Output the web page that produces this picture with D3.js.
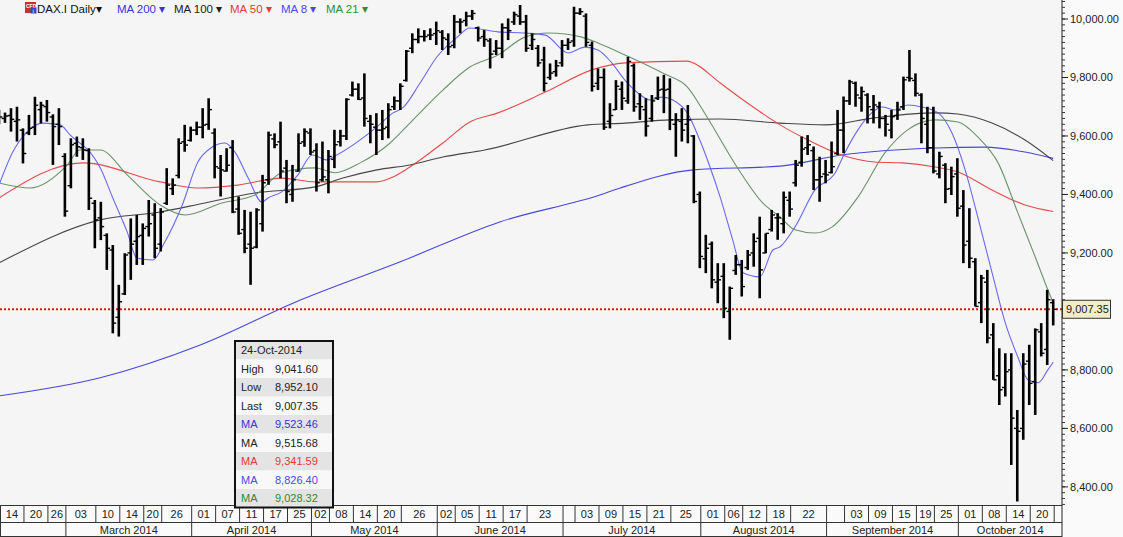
<!DOCTYPE html>
<html><head><meta charset="utf-8">
<script src="https://cdn.jsdelivr.net/npm/d3@7"></script>
<style>
html,body{margin:0;padding:0;background:#fff;}
svg{display:block;font-family:"Liberation Sans",Arial,sans-serif;}
</style></head><body>
<svg id="c" width="1123" height="537"></svg>
<script>
// ---- OHLC data (bar index 0 = 14-Feb-2014 ... 176 = 24-Oct-2014) ----
const opens = [9650,9660,9670,9650,9620,9610,9630,9690,9700,9665,
9640,9530,9430,9575,9560,9550,9370,9320,9260,9210,
8980,9060,9200,9240,9260,9290,9330,9230,9370,9420,
9465,9580,9585,9620,9630,9640,9610,9490,9480,9560,
9350,9280,9230,9220,9300,9450,9590,9580,9490,9400,
9480,9580,9610,9550,9450,9450,9520,9580,9600,9740,
9760,9730,9650,9630,9620,9630,9700,9720,9790,9900,
9930,9940,9945,9950,9955,9930,9910,9990,9995,10010,
9970,9940,9925,9890,9900,9970,9990,10010,9990,9910,
9900,9860,9800,9820,9850,9910,9925,10020,10010,9910,
9780,9800,9650,9690,9760,9720,9840,9710,9690,9660,
9730,9760,9760,9640,9650,9640,9600,9400,9180,9230,
9100,9120,9000,9140,9160,9150,9200,9250,9200,9280,
9320,9300,9380,9440,9510,9560,9550,9450,9470,9475,
9540,9620,9720,9780,9730,9740,9690,9700,9660,9620,
9670,9700,9800,9790,9740,9640,9560,9470,9500,9420,
9470,9360,9240,9170,9030,9100,8920,8780,8740,8800,
8600,8600,8830,8760,8930,8870,9030];
const highs = [9690,9680,9695,9700,9626,9672,9734,9717,9723,9674,
9695,9541,9592,9598,9592,9558,9381,9375,9267,9227,
9091,9199,9318,9330,9301,9381,9370,9353,9490,9455,
9592,9638,9632,9649,9695,9729,9626,9535,9558,9586,
9393,9347,9341,9353,9467,9615,9609,9649,9518,9501,
9609,9626,9626,9575,9581,9552,9621,9621,9729,9786,
9780,9814,9672,9678,9689,9712,9735,9780,9894,9951,
9968,9962,9968,9991,9962,9951,10014,10002,10025,10031,
9974,9962,9934,9928,9985,10002,10025,10048,10014,9951,
9911,9905,9848,9860,9928,9934,10042,10037,10019,9923,
9831,9831,9712,9791,9786,9871,9848,9746,9729,9740,
9803,9809,9797,9678,9695,9706,9603,9410,9262,9239,
9165,9165,9085,9193,9176,9210,9267,9324,9267,9347,
9336,9410,9410,9518,9598,9603,9564,9529,9518,9581,
9689,9735,9792,9786,9769,9746,9740,9717,9672,9689,
9717,9803,9894,9814,9746,9700,9700,9546,9507,9495,
9524,9415,9353,9182,9125,9142,8960,8874,8857,8857,
8663,8857,8886,8942,8960,9074,9041.60];
const lows = [9640,9645,9615,9581,9506,9603,9603,9643,9649,9501,
9569,9324,9421,9529,9518,9347,9216,9244,9142,8925,
8914,9056,9108,9159,9159,9256,9182,9205,9364,9398,
9455,9546,9581,9603,9592,9621,9455,9393,9478,9336,
9262,9199,9091,9216,9273,9433,9558,9455,9370,9375,
9478,9563,9535,9410,9444,9404,9490,9564,9586,9735,
9723,9632,9575,9535,9586,9592,9689,9689,9786,9883,
9917,9923,9928,9911,9894,9877,9900,9951,9975,9997,
9923,9905,9831,9877,9866,9928,9980,9980,9888,9894,
9837,9752,9792,9803,9837,9894,9905,10014,9905,9752,
9757,9621,9626,9689,9689,9710,9683,9655,9598,9649,
9723,9678,9620,9529,9581,9575,9370,9148,9131,9079,
9028,8977,8903,9125,9051,9142,9153,9045,9199,9273,
9245,9267,9324,9427,9495,9535,9415,9375,9438,9472,
9535,9541,9706,9700,9683,9643,9643,9626,9598,9592,
9655,9689,9786,9735,9575,9541,9472,9455,9370,9398,
9324,9165,9148,9017,8960,8891,8766,8680,8709,8475,
8350,8561,8680,8646,8846,8817,8952.10];
const closes = [9665,9668,9657,9655,9540,9626,9705,9705,9680,9632,
9632,9343,9570,9563,9552,9387,9313,9290,9216,8960,
9033,9193,9230,9256,9284,9300,9216,9340,9432,9432,
9575,9569,9620,9630,9637,9690,9495,9484,9500,9340,
9267,9216,9216,9347,9440,9603,9570,9480,9410,9450,
9575,9615,9545,9440,9460,9530,9570,9600,9725,9760,
9725,9660,9640,9620,9625,9690,9720,9770,9890,9930,
9940,9940,9945,9960,9935,9905,9990,9990,10010,10019,
9935,9930,9880,9900,9970,9960,10015,9990,9900,9930,
9850,9780,9815,9840,9910,9920,10020,10025,9920,9770,
9800,9630,9670,9770,9729,9855,9700,9700,9634,9720,
9757,9757,9655,9655,9620,9655,9376,9188,9216,9108,
9108,9011,9079,9160,9085,9193,9239,9142,9267,9330,
9320,9390,9350,9500,9555,9570,9450,9461,9467,9495,
9620,9720,9785,9740,9752,9700,9706,9660,9640,9666,
9689,9792,9797,9746,9660,9560,9480,9530,9418,9461,
9353,9227,9182,9017,9114,8909,8766,8732,8794,8635,
8590,8820,8754,8937,8857,9040,9007.35];

// ---- moving averages: [bar index, value] ----
const ma200 = [[0,8711],[16.9,8773],[33.6,8885],[50.3,9039],[66.9,9169],[83.6,9306],[100.3,9398],[103.7,9422],[115.9,9484],[130.4,9497],[140.7,9535],[156.3,9559],[164.6,9562],[171.3,9545],[176,9523.46]];
const ma100 = [[0,9166],[16.9,9313],[26.9,9340],[34.4,9371],[42.7,9405],[52.8,9426],[57.4,9456],[63.1,9484],[68.6,9501],[74.1,9528],[81.1,9552],[98.3,9638],[104.5,9644],[112,9655],[120.4,9658],[130.4,9644],[137.9,9638],[146.2,9662],[156.3,9679],[160.1,9675],[165.8,9644],[171.3,9586],[176,9515.68]];
const ma50 = [[0,9388],[14,9508],[26.9,9443],[33.2,9422],[39.9,9432],[47.2,9456],[52.8,9443],[63.1,9443],[65.8,9460],[68.6,9494],[74.1,9576],[78.6,9648],[83.3,9679],[91.2,9750],[99,9826],[104.5,9850],[114.9,9856],[115.9,9850],[120.4,9781],[125.9,9699],[130.4,9638],[135.1,9586],[140.7,9535],[146.2,9511],[150.8,9508],[156.3,9494],[160.1,9477],[165.8,9415],[171.3,9364],[176,9341.59]];
const ma21 = [[0,9439],[5.2,9422],[11.4,9501],[13.5,9552],[16.9,9552],[21.4,9467],[26.9,9364],[31.1,9330],[37.2,9371],[42.7,9398],[47.2,9474],[52.8,9491],[56.1,9474],[60.3,9508],[65.3,9576],[68.6,9644],[74.1,9757],[78.6,9836],[83.3,9877],[87.8,9938],[91.7,9952],[97.3,9938],[100,9918],[104.5,9877],[110.8,9815],[114.9,9768],[118.2,9665],[123.2,9494],[127.5,9371],[130.4,9323],[132.9,9279],[136.2,9268],[139.1,9289],[143.4,9391],[147.9,9542],[151.7,9621],[156.3,9655],[160.1,9648],[163.4,9597],[166.8,9508],[170.1,9337],[173,9186],[175.1,9074],[176,9028.32]];
const ma8 = [[0,9432],[2.3,9545],[4.7,9614],[7.3,9644],[10.2,9638],[11.9,9603],[13.5,9576],[15.2,9545],[16.9,9491],[19,9388],[21.4,9272],[23,9183],[25.7,9176],[27.7,9238],[30.6,9364],[33.2,9511],[35.6,9562],[37.7,9576],[39.4,9545],[41.6,9456],[43.9,9374],[44.9,9388],[47.2,9409],[49.9,9467],[52.3,9535],[54.8,9518],[55.8,9528],[63.1,9631],[65.8,9679],[67.4,9696],[70.3,9781],[73.1,9870],[76.5,9938],[78.6,9969],[83.3,9956],[87.8,9952],[91.2,9945],[95,9884],[97.8,9904],[100,9894],[102.3,9850],[104.5,9791],[106.5,9750],[108.7,9723],[110.8,9733],[112.5,9723],[114.9,9679],[117,9586],[118.7,9494],[120.4,9391],[122.5,9244],[124.2,9132],[127,9118],[129.2,9210],[130.4,9221],[132.9,9289],[136.2,9415],[139.6,9474],[141.2,9542],[143.4,9621],[145.7,9679],[147.4,9699],[149.6,9689],[151.7,9706],[154.1,9699],[156.8,9679],[159.1,9610],[161.3,9484],[163.4,9323],[165.8,9132],[168,8961],[170.1,8844],[171.8,8766],[173.5,8756],[175.1,8800],[176,8826.40]];

// ---- axis labels ----
const dayTickIdx = [0,4,8,11,16,20,24,27,32,36,40,44,48,52,55,59,63,67,73,76,80,84,88,94,96,100,104,108,112,117,121,124,128,132,138,141,145,149,153,156,160,164,168,172,176];
const dayTickLabels = ["14","20","26","03","10","14","20","26","01","07","11","17","25","02","08","14","20","26","02","05","11","17","23","","03","09","15","21","25","01","06","12","18","22","","03","09","15","19","25","01","08","14","20",""];
const monthIdx = [0,11,32,52,73,94,117,138,160];
const monthLabels = ["","March 2014","April 2014","May 2014","June 2014","July 2014","August 2014","September 2014","October 2014"];
const priceTicks = [8400,8600,8800,9000,9200,9400,9600,9800,10000];
const legendNames = ["MA 200","MA 100","MA 50","MA 8","MA 21"];
const lastDate = "24-Oct-2014";

// ---- layout ----
const W = 1123, H = 537, PR = 1062, PB = 505, ROW1 = 522, ROW2 = 536;
const maColors = ["#3535d6","#333333","#e23a3a","#5a5aee","#5b8a5b"];
const legendColors = ["#3535d6","#222222","#e23a3a","#4a4ae6","#2f8f2f"];
const svg = d3.select("#c");

svg.append("rect").attr("width",W).attr("height",H).attr("fill","#fafafa");
svg.append("rect").attr("width",PR).attr("height",PB).attr("fill","#f5f5f5");
svg.append("defs").append("clipPath").attr("id","clip")
  .append("rect").attr("x",0).attr("y",0).attr("width",PR).attr("height",PB);

const x = d3.scaleLinear().domain([0,176]).range([-1,1053.2]);
const y = d3.scaleLinear().domain([8338,10065]).range([PB,0]);
const dx = i => (i===0 ? 0 : x(i)+1);

const plot = svg.append("g").attr("clip-path","url(#clip)");

// MA lines
const line = d3.line().x(d=>x(d[0])).y(d=>y(d[1])).curve(d3.curveMonotoneX);
[ma200,ma100,ma50,ma8,ma21].forEach((s,k)=>{
  plot.append("path").attr("d",line(s)).attr("fill","none")
    .attr("stroke",maColors[k]).attr("stroke-width",1.1).attr("opacity",0.9);
});

// last price dotted line
const lp = closes[closes.length-1];
plot.append("line").attr("x1",0).attr("x2",PR)
  .attr("y1",y(lp)).attr("y2",y(lp))
  .attr("stroke","#e01818").attr("stroke-width",2).attr("stroke-dasharray","2,2");

// OHLC bars
const idx = d3.range(opens.length);
const bars = plot.append("g");
bars.selectAll("line.hl").data(idx).join("line").attr("class","hl")
  .attr("x1",i=>x(i)).attr("x2",i=>x(i))
  .attr("y1",i=>y(highs[i])).attr("y2",i=>y(lows[i]))
  .attr("stroke","#000").attr("stroke-width",2.6);
bars.selectAll("line.op").data(idx).join("line").attr("class","op")
  .attr("x1",i=>x(i)-3.3).attr("x2",i=>x(i))
  .attr("y1",i=>y(opens[i])).attr("y2",i=>y(opens[i]))
  .attr("stroke","#000").attr("stroke-width",1.4);
bars.selectAll("line.cl").data(idx).join("line").attr("class","cl")
  .attr("x1",i=>x(i)).attr("x2",i=>x(i)+3.3)
  .attr("y1",i=>y(closes[i])).attr("y2",i=>y(closes[i]))
  .attr("stroke","#000").attr("stroke-width",1.4);

// right axis
const ax = svg.append("g");
ax.append("line").attr("x1",PR).attr("x2",PR).attr("y1",0).attr("y2",H).attr("stroke","#222").attr("stroke-width",1);
d3.range(8340,10061,20).forEach(v=>{
  ax.append("line").attr("x1",PR).attr("x2",PR+3).attr("y1",y(v)).attr("y2",y(v)).attr("stroke","#333");
});
const fmt = d3.format(",.2f");
priceTicks.forEach(v=>{
  ax.append("line").attr("x1",PR).attr("x2",PR+6).attr("y1",y(v)).attr("y2",y(v)).attr("stroke","#222");
  // the 9,000 label is hidden behind the last-price label in the reference
  if (Math.abs(y(v)-y(lp)) > 12) {
    ax.append("text").attr("x",PR+8).attr("y",y(v)).attr("dy","0.35em")
      .attr("font-size",11).attr("fill","#222").text(fmt(v));
  }
});
// last price label
ax.append("rect").attr("x",PR+0.5).attr("y",y(lp)-9).attr("width",48).attr("height",18)
  .attr("fill","#f1edc9").attr("stroke","#333").attr("stroke-width",1);
ax.append("text").attr("x",PR+4).attr("y",y(lp)).attr("dy","0.35em")
  .attr("font-size",11).attr("fill","#222").text(fmt(lp));

// bottom axis
const bx = svg.append("g");
[PB,ROW1,ROW2].forEach(yy=>bx.append("line").attr("x1",0).attr("x2",PR).attr("y1",yy+0.5).attr("y2",yy+0.5).attr("stroke","#333"));
bx.append("line").attr("x1",0.5).attr("x2",0.5).attr("y1",PB).attr("y2",ROW2).attr("stroke","#333");
dayTickIdx.forEach((t,k)=>{
  const a = dx(t), b = k<dayTickIdx.length-1 ? dx(dayTickIdx[k+1]) : PR;
  if(k>0) bx.append("line").attr("x1",a).attr("x2",a).attr("y1",PB).attr("y2",ROW1).attr("stroke","#333");
  bx.append("text").attr("x",(a+b)/2).attr("y",PB+12.5).attr("text-anchor","middle")
    .attr("font-size",11).attr("fill","#222").text(dayTickLabels[k]);
});
monthIdx.forEach((t,k)=>{
  const a = dx(t), b = k<monthIdx.length-1 ? dx(monthIdx[k+1]) : PR;
  if(k>0) bx.append("line").attr("x1",a).attr("x2",a).attr("y1",ROW1).attr("y2",ROW2).attr("stroke","#333");
  bx.append("text").attr("x",(a+b)/2).attr("y",ROW1+11.5).attr("text-anchor","middle")
    .attr("font-size",11).attr("fill","#222").text(monthLabels[k]);
});

// legend
const lg = svg.append("g");
lg.append("rect").attr("x",25).attr("y",2).attr("width",11).attr("height",11).attr("fill","#c8302c");
lg.append("text").attr("x",26).attr("y",7.5).attr("font-size",5).attr("font-weight","bold").attr("fill","#fff").text("CFD");
lg.append("rect").attr("x",30.5).attr("y",7.5).attr("width",6).attr("height",6).attr("fill","#2a4fb0");
lg.append("text").attr("x",32.5).attr("y",13).attr("font-size",6).attr("fill","#fff").text("i");
lg.append("text").attr("x",37).attr("y",13).attr("font-size",11.5).attr("fill","#111").text("DAX.I Daily\u25BE");
const legX = [117,174,230,281,326];
legendNames.forEach((n,k)=>{
  lg.append("text").attr("x",legX[k]).attr("y",13).attr("font-size",11.5)
    .attr("fill",legendColors[k]).text(n+" \u25BE");
});

// info box
const last = opens.length-1;
const infoRows = [
  [lastDate,"", "#222"],
  ["High", fmt(highs[last]), "#222"],
  ["Low", fmt(lows[last]), "#222"],
  ["Last", fmt(closes[last]), "#222"],
  ["MA", fmt(ma200[ma200.length-1][1]), "#3535d6"],
  ["MA", fmt(ma100[ma100.length-1][1]), "#222"],
  ["MA", fmt(ma50[ma50.length-1][1]), "#e23a3a"],
  ["MA", fmt(ma8[ma8.length-1][1]), "#4a4ae6"],
  ["MA", fmt(ma21[ma21.length-1][1]), "#2f8a2f"]
];
const ib = svg.append("g");
const bxL = 235, bxT = 341, rh = 18.5, bw = 98;
infoRows.forEach((r,k)=>{
  ib.append("rect").attr("x",bxL).attr("y",bxT+k*rh).attr("width",bw).attr("height",rh)
    .attr("fill", k%2===0 ? "#e4e4e4" : "#f8f8f8");
  ib.append("text").attr("x",bxL+6).attr("y",bxT+k*rh+13).attr("font-size",11).attr("fill",r[2]).text(r[0]);
  if(r[1]) ib.append("text").attr("x",bxL+40).attr("y",bxT+k*rh+13).attr("font-size",11).attr("fill",r[2]).text(r[1]);
});
ib.append("rect").attr("x",bxL).attr("y",bxT).attr("width",bw).attr("height",rh*infoRows.length)
  .attr("fill","none").attr("stroke","#111").attr("stroke-width",2);
</script>
</body></html>
